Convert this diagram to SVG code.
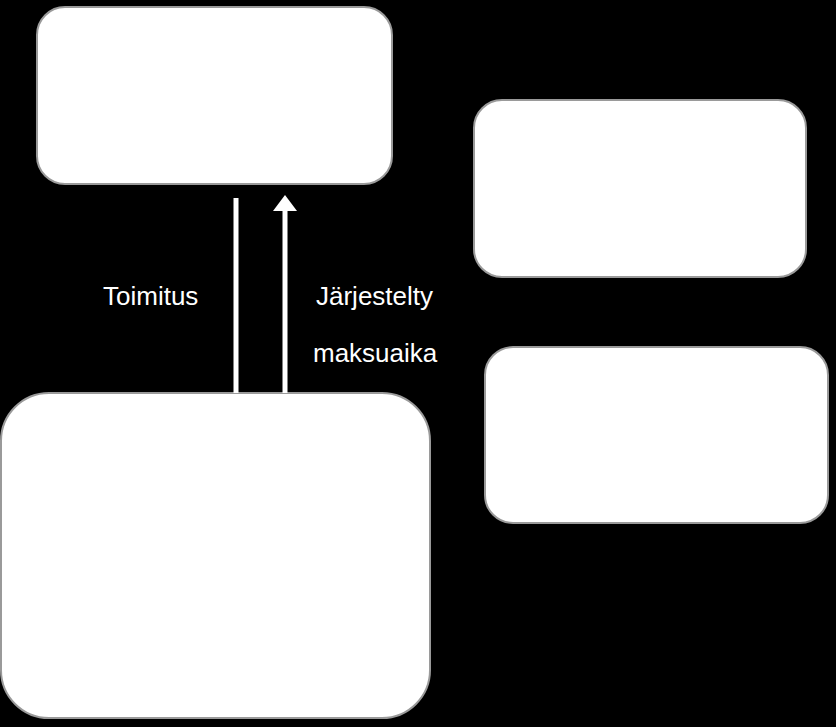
<svg xmlns="http://www.w3.org/2000/svg" width="836" height="727" viewBox="0 0 836 727">
<style>
.box{fill:#fff;stroke:#9a9a9a;stroke-width:2}
.lbl{font-family:"Liberation Sans",Arial,sans-serif;font-size:26px;fill:#fff}
.ln{stroke:#fff;stroke-width:5;fill:none}
</style>
<defs><marker id="ah" markerWidth="6" markerHeight="4" refX="1" refY="2" orient="auto" markerUnits="strokeWidth"><path d="M0,0 L5,2 L0,4 Z" fill="#fff"/></marker></defs>
<rect width="836" height="727" fill="#000"/>
<g id="n1"><rect class="box" x="37" y="7" width="355" height="177" rx="28"/></g>
<g id="n2"><rect class="box" x="474" y="100" width="332" height="177" rx="28"/></g>
<g id="n3"><rect class="box" x="485" y="347" width="343" height="176" rx="28"/></g>
<g id="n4"><rect class="box" x="1" y="393" width="429" height="325" rx="48"/></g>
<g id="connectors">
<line class="ln" x1="236" y1="393" x2="236" y2="198"/>
<line class="ln" x1="285" y1="393" x2="285" y2="210"/>
<path d="M273,211 L285,195 L297,211 Z" fill="#fff"/>
</g>
<text class="lbl" x="103" y="305">Toimitus</text>
<text class="lbl" x="316" y="305">Järjestelty</text>
<text class="lbl" x="313" y="362">maksuaika</text>
</svg>
